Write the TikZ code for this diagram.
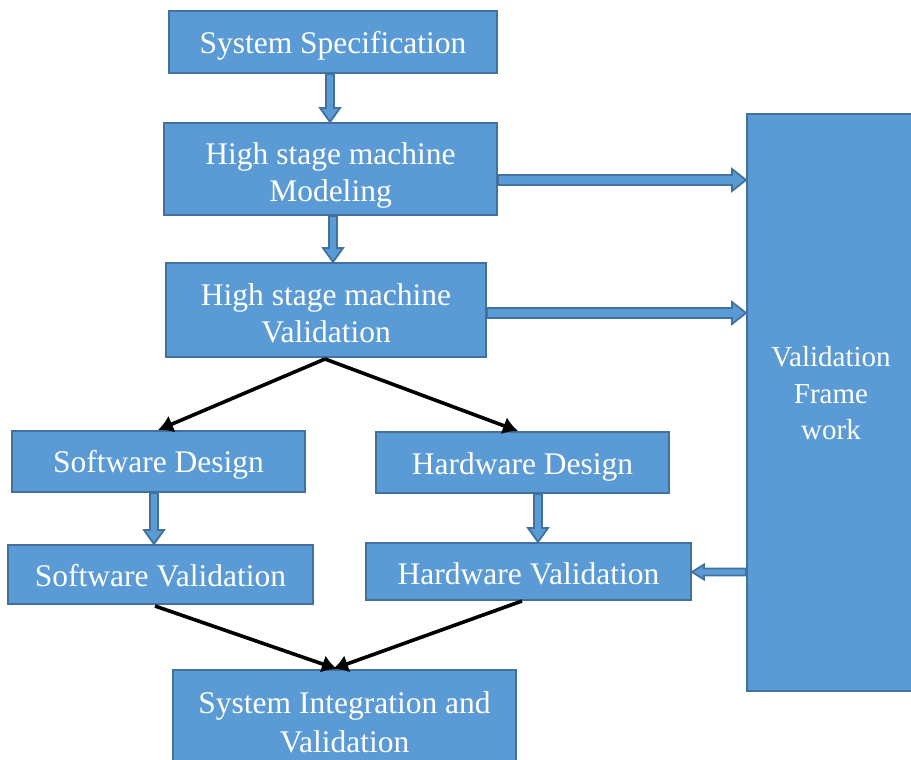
\documentclass[tikz,border=0pt]{standalone}
\usepackage{fontspec}
\setmainfont{Liberation Serif}
\usetikzlibrary{calc,arrows.meta}
\definecolor{boxfill}{HTML}{5B9BD5}
\definecolor{boxline}{HTML}{41719C}
\tikzset{
  box/.style={draw=boxline, fill=boxfill, line width=2pt, inner sep=0pt},
  lbl/.style={text=white, align=center, inner sep=0pt, font=\fontsize{31.5}{37}\selectfont},
  blk/.style={draw=boxline, fill=boxfill, line width=1.8pt, line join=miter},
  flow/.style={line width=3.6pt, -{Latex[length=15pt,width=18pt]}}
}
% block arrows pointing down / right / left between two coordinates
\newcommand\blkdown[2]{\draw[blk] ($(#1)+(-4,0)$) -- ($(#2)+(-4,-14)$) -- ($(#2)+(-10,-14)$) -- (#2) -- ($(#2)+(10,-14)$) -- ($(#2)+(4,-14)$) -- ($(#1)+(4,0)$) -- cycle;}
\newcommand\blkright[2]{\draw[blk] ($(#1)+(0,-5)$) -- ($(#2)+(-14,-5)$) -- ($(#2)+(-14,-11)$) -- (#2) -- ($(#2)+(-14,11)$) -- ($(#2)+(-14,5)$) -- ($(#1)+(0,5)$) -- cycle;}
\newcommand\blkleft[2]{\draw[blk] ($(#1)+(0,-3.5)$) -- ($(#2)+(12,-3.5)$) -- ($(#2)+(12,-7.5)$) -- (#2) -- ($(#2)+(12,7.5)$) -- ($(#2)+(12,3.5)$) -- ($(#1)+(0,3.5)$) -- cycle;}
\begin{document}
\begin{tikzpicture}[x=1pt, y=-1pt]
\useasboundingbox (0,0) rectangle (911,760);

% boxes
\node[box, minimum width=328pt, minimum height=62pt] (spec) at (333,42) {};
\node[box, minimum width=333pt, minimum height=92pt] (model) at (330.5,169) {};
\node[box, minimum width=320pt, minimum height=94pt] (hval) at (326,310) {};
\node[box, minimum width=293pt, minimum height=61pt] (swd) at (158.5,461.5) {};
\node[box, minimum width=293pt, minimum height=61pt] (hwd) at (522.5,462.5) {};
\node[box, minimum width=305pt, minimum height=59pt] (swv) at (160.5,574.5) {};
\node[box, minimum width=325pt, minimum height=57pt] (hwv) at (528.5,571.5) {};
\node[box, minimum width=343pt, minimum height=120pt] (integ) at (344.5,730) {};
\node[box, minimum width=184pt, minimum height=577pt] (frame) at (839,402.5) {};

% box texts
\node[lbl] (spec-t) at ($(spec.center)+(0,4)$) {System Specification};
\node[lbl] (model-t) at ($(model.center)+(0,6)$) {High stage machine\\Modeling};
\node[lbl] (hval-t) at ($(hval.center)+(0,3)$) {High stage machine\\Validation};
\node[lbl] (swd-t) at ($(swd.center)+(0,3)$) {Software Design};
\node[lbl] (hwd-t) at ($(hwd.center)+(0,4)$) {Hardware Design};
\node[lbl] (swv-t) at ($(swv.center)+(0,1.5)$) {Software Validation};
\node[lbl] (hwv-t) at ($(hwv.center)+(0,2)$) {Hardware Validation};
\node[lbl, font=\fontsize{31.5}{39}\selectfont, anchor=north] (integ-t) at ($(integ.north)+(0,22)$) {System Integration and\\Validation};
\node[lbl, font=\fontsize{29}{36.5}\selectfont] (frame-t) at ($(frame.center)+(-8,-9)$) {Validation\\Frame\\work};

% block arrows
\coordinate (a1s) at (spec.south -| 330,0);
\coordinate (a1e) at (model.north -| 330,0);
\blkdown{a1s}{a1e}
\coordinate (a2s) at (model.south -| 333,0);
\coordinate (a2e) at (hval.north -| 333,0);
\blkdown{a2s}{a2e}
\coordinate (a3s) at (model.east |- 0,180);
\coordinate (a3e) at (frame.west |- 0,180);
\blkright{a3s}{a3e}
\coordinate (a4s) at (hval.east |- 0,313);
\coordinate (a4e) at (frame.west |- 0,313);
\blkright{a4s}{a4e}
\coordinate (a5s) at (swd.south -| 154,0);
\coordinate (a5e) at (swv.north -| 154,0);
\blkdown{a5s}{a5e}
\coordinate (a6s) at (hwd.south -| 538,0);
\coordinate (a6e) at (hwv.north -| 538,0);
\blkdown{a6s}{a6e}
\coordinate (a7s) at (frame.west |- 0,572);
\coordinate (a7e) at (hwv.east |- 0,572);
\blkleft{a7s}{a7e}

% plain flow arrows
\coordinate (split) at (325,359);
\draw[flow] (split) -- (swd.north -| 158,0);
\draw[flow] (split) -- (hwd.north -| 518,0);
\coordinate (swout) at (155,606);
\coordinate (hwout) at (522,601);
\draw[flow] (swout) -- (integ.north -| 337,0);
\draw[flow] (hwout) -- (integ.north -| 333,0);
\end{tikzpicture}
\end{document}
